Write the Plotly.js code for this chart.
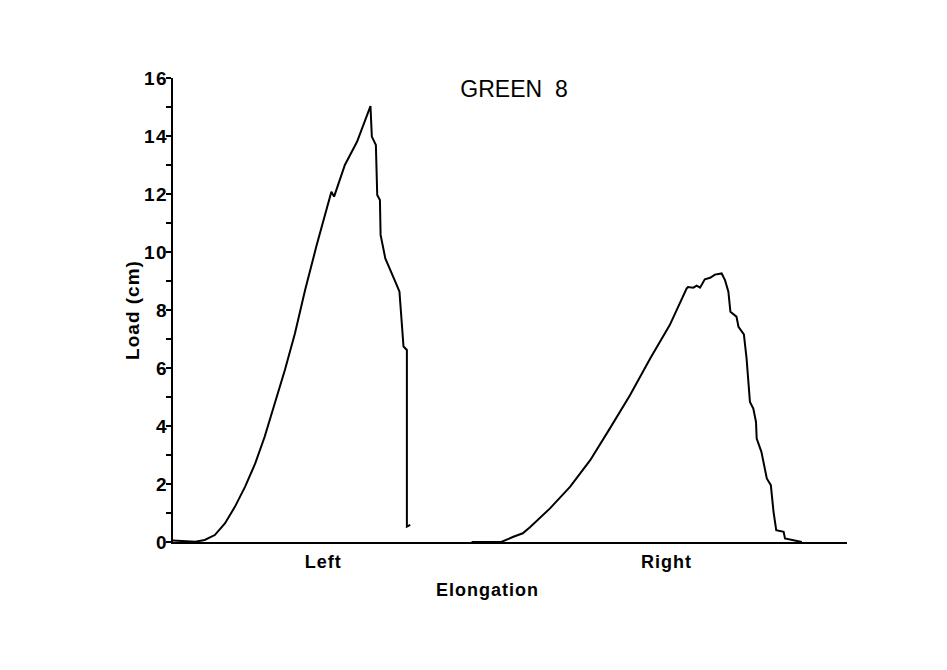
<!DOCTYPE html>
<html>
<head>
<meta charset="utf-8">
<script src="https://cdn.plot.ly/plotly-3.0.1.min.js"></script>
<style>
  html, body { margin: 0; padding: 0; background: #ffffff; }
  #chart { width: 947px; height: 670px; }
  #chart .xtick text, #chart .g-ytitle text, #chart .annotation-text { letter-spacing: 1px; }
  #chart .ytick text { letter-spacing: 1.5px; }
</style>
</head>
<body>
<div id="chart"></div>
<script>
// Elongation in arbitrary units (axis spans 0..100), load in cm
const elongLeft = [0, 1.8, 3.3, 4.7, 6.2, 7.7, 9.2, 10.7, 12.2, 13.6, 15.1, 16.6, 18.1, 19.6, 21.3, 23.3, 23.5, 23.9, 25.5, 27.3, 29.3, 29.5, 30.1, 30.3, 30.7, 30.8, 31.5, 33.2, 33.6, 33.8, 34.2, 34.7, 34.7, 35.2];
const loadLeft  = [0.05, 0.02, 0.01, 0.07, 0.24, 0.64, 1.22, 1.91, 2.71, 3.63, 4.78, 5.93, 7.20, 8.69, 10.22, 11.97, 12.08, 11.91, 13.0, 13.8, 15.03, 13.98, 13.69, 11.97, 11.79, 10.59, 9.78, 8.86, 8.63, 8.0, 6.74, 6.62, 0.53, 0.59];

const elongRight = [44.3, 48.7, 50.5, 51.9, 53.0, 55.9, 58.9, 61.9, 64.8, 67.8, 70.8, 73.7, 76.2, 76.4, 77.2, 77.7, 78.2, 78.9, 79.7, 80.4, 81.4, 81.9, 82.4, 82.7, 83.6, 83.9, 84.7, 85.1, 85.6, 86.1, 86.5, 86.6, 87.3, 88.1, 88.7, 89.1, 89.5, 90.6, 90.8, 93.3];
const loadRight  = [0.0, 0.0, 0.18, 0.30, 0.52, 1.15, 1.90, 2.82, 3.91, 5.06, 6.33, 7.48, 8.74, 8.79, 8.77, 8.84, 8.77, 9.06, 9.11, 9.22, 9.26, 9.03, 8.63, 7.94, 7.77, 7.42, 7.16, 6.33, 4.83, 4.60, 4.14, 3.57, 3.11, 2.19, 1.96, 1.04, 0.41, 0.35, 0.12, 0.0];

const groupLabels = ['Left', 'Right'];
const groupPositions = [22.3, 73.2];
const chartTitle = 'GREEN\u00a0\u00a08';
const xTitle = 'Elongation';
const yTitle = 'Load (cm)';

const lineStyle = { color: '#000000', width: 2 };

const traces = [
  { x: elongLeft, y: loadLeft, mode: 'lines', line: lineStyle, name: 'Left', hoverinfo: 'x+y' },
  { x: elongRight, y: loadRight, mode: 'lines', line: lineStyle, name: 'Right', hoverinfo: 'x+y' }
];

const fam = 'Liberation Sans, Arial, Helvetica, sans-serif';
const xFont = { family: fam, size: 18, color: '#000000', weight: 'bold' };
const yFont = { family: fam, size: 19, color: '#000000', weight: 'bold' };

const layout = {
  width: 947,
  height: 670,
  paper_bgcolor: '#ffffff',
  plot_bgcolor: '#ffffff',
  showlegend: false,
  margin: { l: 173, r: 100, t: 78, b: 128 },
  title: {
    text: chartTitle,
    font: { family: fam, size: 23, color: '#000000' },
    x: 514 / 947, xanchor: 'center', xref: 'container',
    y: 1 - 89 / 670, yanchor: 'middle', yref: 'container'
  },
  xaxis: {
    range: [0, 100],
    showgrid: false,
    zeroline: false,
    showline: true,
    linecolor: '#000000',
    linewidth: 2,
    ticks: '',
    tickmode: 'array',
    tickvals: groupPositions,
    ticktext: groupLabels,
    tickfont: xFont,
    ticklabelstandoff: 2,
    fixedrange: true
  },
  yaxis: {
    range: [0, 16],
    showgrid: false,
    zeroline: false,
    showline: true,
    linecolor: '#000000',
    linewidth: 2,
    ticks: 'outside',
    ticklen: 5,
    tickwidth: 2,
    tickcolor: '#000000',
    dtick: 2,
    tick0: 0,
    tickfont: yFont,
    ticklabelstandoff: -6,
    minor: { dtick: 1, ticks: 'outside', ticklen: 5, tickwidth: 2, tickcolor: '#000000', showgrid: false },
    title: { text: yTitle, font: yFont, standoff: 2 },
    fixedrange: true
  },
  annotations: [
    {
      text: xTitle,
      xref: 'paper', yref: 'paper',
      x: (487 - 173) / 674, y: (542 - 590) / 464,
      xanchor: 'center', yanchor: 'middle',
      showarrow: false,
      font: xFont
    }
  ]
};

Plotly.newPlot('chart', traces, layout, { displayModeBar: false, staticPlot: true });
</script>
</body>
</html>
